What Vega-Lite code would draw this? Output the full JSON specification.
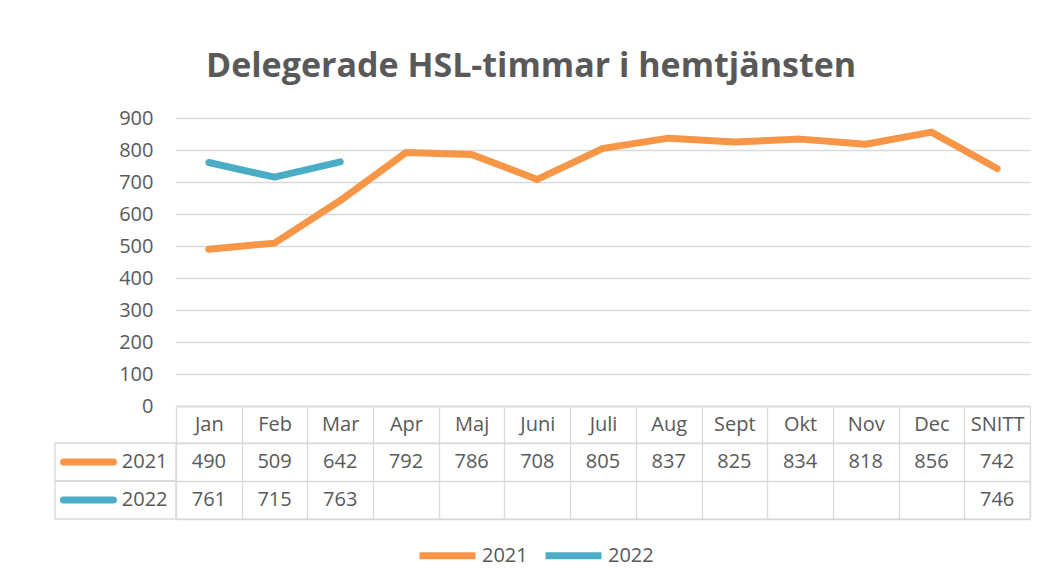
{
  "$schema": "https://vega.github.io/schema/vega-lite/v6.json",
  "background": "white",
  "padding": {"left": 49, "top": 50, "right": 12, "bottom": 5},
  "title": {"text": "Delegerade HSL-timmar i hemtjänsten", "font": "Open Sans", "fontSize": 34, "fontWeight": "bold", "color": "#595959", "anchor": "middle", "offset": 24, "dx": -9},
  "config": {
    "font": "Open Sans",
    "view": {"stroke": null},
    "axis": {"labelFont": "Open Sans", "labelFontSize": 20, "labelColor": "#595959", "gridColor": "#d9d9d9", "gridWidth": 1.3},
    "legend": {"labelFont": "Open Sans", "labelFontSize": 20, "labelColor": "#595959"}
  },
  "datasets": {
    "hsl": [
      {"year": "2021", "month": "Jan", "value": 490},
      {"year": "2021", "month": "Feb", "value": 509},
      {"year": "2021", "month": "Mar", "value": 642},
      {"year": "2021", "month": "Apr", "value": 792},
      {"year": "2021", "month": "Maj", "value": 786},
      {"year": "2021", "month": "Juni", "value": 708},
      {"year": "2021", "month": "Juli", "value": 805},
      {"year": "2021", "month": "Aug", "value": 837},
      {"year": "2021", "month": "Sept", "value": 825},
      {"year": "2021", "month": "Okt", "value": 834},
      {"year": "2021", "month": "Nov", "value": 818},
      {"year": "2021", "month": "Dec", "value": 856},
      {"year": "2021", "month": "SNITT", "value": 742},
      {"year": "2022", "month": "Jan", "value": 761},
      {"year": "2022", "month": "Feb", "value": 715},
      {"year": "2022", "month": "Mar", "value": 763},
      {"year": "2022", "month": "SNITT", "value": 746}
    ]
  },
  "columns": 2,
  "spacing": {"row": 37, "column": 0},
  "bounds": "flush",
  "concat": [
    {
      "width": 121,
      "height": 288,
      "data": {"values": []},
      "mark": "point",
      "encoding": {}
    },
    {
      "width": 854,
      "height": 288,
      "data": {"name": "hsl"},
      "transform": [{"filter": "datum.month !== 'SNITT' || datum.year === '2021'"}],
      "mark": {"type": "line", "strokeWidth": 7, "strokeCap": "round", "strokeJoin": "round"},
      "encoding": {
        "x": {
          "field": "month", "type": "nominal",
          "sort": ["Jan", "Feb", "Mar", "Apr", "Maj", "Juni", "Juli", "Aug", "Sept", "Okt", "Nov", "Dec", "SNITT"],
          "scale": {"type": "band", "domain": ["Jan", "Feb", "Mar", "Apr", "Maj", "Juni", "Juli", "Aug", "Sept", "Okt", "Nov", "Dec", "SNITT"], "paddingInner": 0, "paddingOuter": 0},
          "axis": {"title": null, "orient": "bottom", "tickBand": "extent", "tickSize": 37, "tickColor": "#d9d9d9", "tickWidth": 1.3, "domainColor": "#d9d9d9", "domainWidth": 1.3, "labelAngle": 0, "labelBaseline": "middle", "labelPadding": -18.5, "labelOverlap": false, "grid": false}
        },
        "y": {
          "field": "value", "type": "quantitative",
          "scale": {"domain": [0, 900]},
          "axis": {"title": null, "values": [0, 100, 200, 300, 400, 500, 600, 700, 800, 900], "domain": false, "ticks": false, "labelPadding": 23}
        },
        "color": {
          "field": "year", "type": "nominal",
          "scale": {"domain": ["2021", "2022"], "range": ["#F79646", "#4BACC6"]},
          "legend": {"title": null, "orient": "none", "direction": "horizontal", "legendX": 361, "legendY": 406, "symbolType": "stroke", "symbolSize": 3136, "symbolStrokeWidth": 7, "labelOffset": 3, "columnPadding": 3}
        }
      }
    },
    {
      "width": 121,
      "height": 76,
      "data": {"name": "hsl"},
      "transform": [{"filter": "datum.month === 'Jan'"}],
      "encoding": {
        "y": {
          "field": "year", "type": "nominal",
          "scale": {"domain": ["2021", "2022"], "paddingInner": 0, "paddingOuter": 0},
          "axis": null
        }
      },
      "layer": [
        {
          "mark": {"type": "rect", "fill": null, "stroke": "#d9d9d9", "strokeWidth": 1.3}
        },
        {
          "mark": {"type": "point", "shape": "stroke", "size": 2500, "strokeWidth": 7, "strokeCap": "round", "filled": false, "opacity": 1},
          "encoding": {
            "x": {"datum": "key", "type": "nominal", "scale": {"type": "point", "domain": ["key", "label"], "padding": 0.62}, "axis": null},
            "color": {"field": "year", "type": "nominal"}
          }
        },
        {
          "mark": {"type": "text", "align": "right", "dx": 25, "fontSize": 20, "font": "Open Sans", "color": "#595959"},
          "encoding": {
            "x": {"datum": "label", "type": "nominal", "axis": null},
            "text": {"field": "year", "type": "nominal"}
          }
        }
      ]
    },
    {
      "width": 854,
      "height": 76,
      "data": {"name": "hsl"},
      "view": {"stroke": "#d9d9d9", "strokeWidth": 1.3},
      "mark": {"type": "text", "fontSize": 20, "font": "Open Sans", "color": "#595959"},
      "encoding": {
        "x": {
          "field": "month", "type": "nominal",
          "scale": {"type": "band", "domain": ["Jan", "Feb", "Mar", "Apr", "Maj", "Juni", "Juli", "Aug", "Sept", "Okt", "Nov", "Dec", "SNITT"], "paddingInner": 0, "paddingOuter": 0},
          "axis": {"title": null, "labels": false, "ticks": false, "domain": false, "grid": true, "tickBand": "extent"}
        },
        "y": {
          "field": "year", "type": "nominal",
          "scale": {"domain": ["2021", "2022"], "paddingInner": 0, "paddingOuter": 0},
          "axis": {"title": null, "labels": false, "ticks": false, "domain": false, "grid": true, "tickBand": "extent"}
        },
        "text": {"field": "value", "type": "quantitative"}
      }
    }
  ]
}
